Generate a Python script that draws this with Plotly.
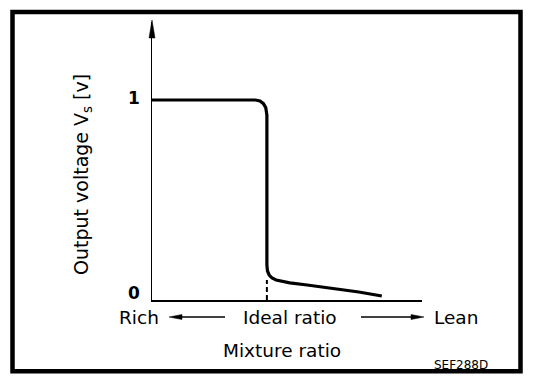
import plotly.graph_objects as go

# ---- data (mixture ratio in arbitrary units, ideal = 1.0; output voltage in V) ----
mixture = [0.0, 0.90, 0.94, 0.97, 0.99, 1.0, 1.0, 1.005, 1.02, 1.045, 1.08, 1.13, 1.2, 1.35, 1.55, 1.8, 2.0]
voltage = [1.0, 1.0, 0.995, 0.982, 0.962, 0.925, 0.175, 0.145, 0.125, 0.11, 0.1, 0.093, 0.086, 0.075, 0.06, 0.04, 0.02]
ideal_x = 1.0
ideal_marker_top = 0.10
y_ticks = [0, 1]
y_tick_labels = ["0", "1"]
x_max = 2.35
y_max = 1.39

# page body has an 8px margin; build figure so that it fits the 560x388 window
OFF = 8
W, H = 544, 372
L, T = 152 - OFF, 22 - OFF
PW, PH = 270, 278
R = W - L - PW
B = H - T - PH


def px(x):
    return (x - OFF - L) / PW


def py(y):
    return (T + PH - (y - OFF)) / PH


FONT = "DejaVu Sans"

fig = go.Figure()
fig.add_trace(go.Scatter(x=mixture, y=voltage, mode="lines",
                         line=dict(color="black", width=3.2, shape="linear"),
                         cliponaxis=False, showlegend=False, hoverinfo="skip"))
fig.add_trace(go.Scatter(x=[ideal_x, ideal_x], y=[0, ideal_marker_top], mode="lines",
                         line=dict(color="black", width=2, dash="5px,3px"),
                         showlegend=False, hoverinfo="skip"))

shapes = []
# outer frame
shapes.append(dict(type="rect", xref="paper", yref="paper",
                   x0=px(12.5), x1=px(520.5), y0=py(371.3), y1=py(12),
                   line=dict(color="black", width=4.5), fillcolor="rgba(0,0,0,0)"))


def tri(tip, base1, base2):
    return dict(type="path", xref="paper", yref="paper",
                path="M{},{} L{},{} L{},{} Z".format(px(tip[0]), py(tip[1]), px(base1[0]), py(base1[1]),
                                                    px(base2[0]), py(base2[1])),
                fillcolor="black", line=dict(color="black", width=0.5))


# y axis arrowhead
shapes.append(tri((152, 20), (149, 38), (155, 38)))
# left arrow (Rich)
shapes.append(dict(type="line", xref="paper", yref="paper", x0=px(178), x1=px(225), y0=py(317), y1=py(317),
                   line=dict(color="black", width=1.5)))
shapes.append(tri((169, 317), (182, 314.5), (182, 319.5)))
# right arrow (Lean)
shapes.append(dict(type="line", xref="paper", yref="paper", x0=px(361), x1=px(414), y0=py(317), y1=py(317),
                   line=dict(color="black", width=1.5)))
shapes.append(tri((424, 317), (411, 314.5), (411, 319.5)))

annotations = []


def text(s, x, y, size=18.5, angle=0, bold=False):
    annotations.append(dict(text=s, x=px(x), y=py(y), xref="paper", yref="paper",
                            xanchor="center", yanchor="middle", showarrow=False, textangle=angle,
                            font=dict(family=FONT, size=size, color="black",
                                      weight="bold" if bold else "normal")))


text("Output voltage V<sub>s</sub> [v]", 82, 175, size=19, angle=-90)
text("Rich", 139, 317)
text("Ideal ratio", 290, 317)
text("Lean", 456, 317)
text("Mixture ratio", 282, 350)
text("SEF288D", 461, 365, size=12)

# y tick labels through the y scale
for v, lab in zip(y_ticks, y_tick_labels):
    annotations.append(dict(text=lab, x=0, y=v, xref="x", yref="y", xanchor="right", yanchor="middle",
                            xshift=-10, yshift=7 if v == 0 else 2, showarrow=False,
                            font=dict(family=FONT, size=17, color="black", weight="bold")))

fig.update_layout(
    width=W, height=H, margin=dict(l=L, r=R, t=T, b=B),
    paper_bgcolor="white", plot_bgcolor="white",
    xaxis=dict(range=[0, x_max], showgrid=False, zeroline=False, showticklabels=False, ticks="",
               showline=True, linecolor="black", linewidth=1.5, fixedrange=True),
    yaxis=dict(range=[0, y_max], showgrid=False, zeroline=False, showticklabels=False, ticks="",
               showline=True, linecolor="black", linewidth=1.2, fixedrange=True),
    shapes=shapes, annotations=annotations, showlegend=False,
)

fig.write_html("out.html")
